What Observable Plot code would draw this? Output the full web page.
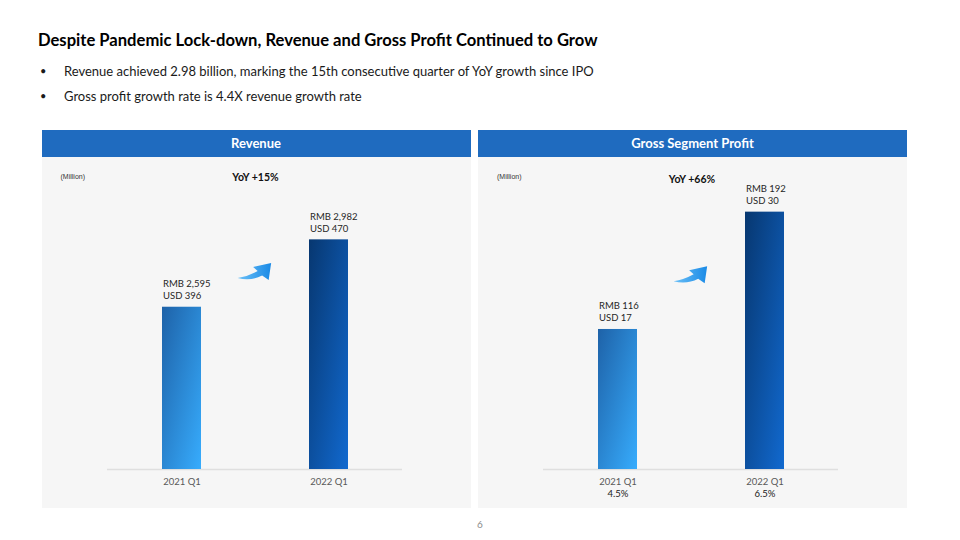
<!DOCTYPE html>
<html><head><meta charset="utf-8">
<script src="https://cdn.jsdelivr.net/npm/d3@7"></script>
<script src="https://cdn.jsdelivr.net/npm/@observablehq/plot@0.6"></script>
<style>
body{margin:0;width:960px;height:540px;position:relative;background:#fff;font-family:Lato,"Open Sans",sans-serif;overflow:hidden}
.abs{position:absolute}
#title{left:38px;top:29px;font-size:16.6px;font-weight:700;color:#000;white-space:nowrap;line-height:22px}
.bullet{left:38px;font-size:13px;color:#1a1a1a;white-space:nowrap;line-height:16px}
.bullet .dot{position:absolute;left:2px;font-size:11px}
.bullet .txt{position:absolute;left:26px}
.panel{top:129.5px;width:429px}
.hdr{height:27px;background:#1F6BBF;color:#fff;font-weight:700;font-size:13px;line-height:27px;text-align:center}
.body{position:relative;height:351px;background:#F6F6F6}
.unit{position:absolute;left:19px;top:15px;font-size:7px;font-family:"Liberation Sans",Arial,sans-serif;color:#333;line-height:10px}
.yoy{position:absolute;top:13px;font-size:10.5px;font-weight:700;color:#111;transform:translateX(-50%);white-space:nowrap;line-height:14px}
.body svg{position:absolute;left:0;top:0}
#page{left:0;width:960px;text-align:center;top:518px;font-size:10px;color:#8c8c8c}
</style></head>
<body>
<div id="title" class="abs"></div>
<div id="b1" class="abs bullet" style="top:63px"><span class="dot">•</span><span class="txt"></span></div>
<div id="b2" class="abs bullet" style="top:88px"><span class="dot">•</span><span class="txt"></span></div>
<div id="p0" class="abs panel" style="left:41.5px"><div class="hdr"></div><div class="body"><div class="unit"></div><div class="yoy"></div></div></div>
<div id="p1" class="abs panel" style="left:478px"><div class="hdr"></div><div class="body"><div class="unit"></div><div class="yoy"></div></div></div>
<div id="page" class="abs">6</div>
<script>
// ---- data ----
const titleText = "Despite Pandemic Lock-down, Revenue and Gross Profit Continued to Grow";
const bulletTexts = [
  "Revenue achieved 2.98 billion, marking the 15th consecutive quarter of YoY growth since IPO",
  "Gross profit growth rate is 4.4X revenue growth rate"
];
const categories = ["2021 Q1", "2022 Q1"];
const revenueRMB = [2595, 2982];
const revenueUSD = [396, 470];
const profitRMB = [116, 192];
const profitUSD = [17, 30];
const profitMargin = ["4.5%", "6.5%"];
const panelTitles = ["Revenue", "Gross Segment Profit"];
const yoyLabels = ["YoY +15%", "YoY +66%"];
const unitLabel = "(Million)";

// ---- text ----
document.getElementById("title").textContent = titleText;
document.querySelector("#b1 .txt").textContent = bulletTexts[0];
document.querySelector("#b2 .txt").textContent = bulletTexts[1];

const fmt = d3.format(",");
const NS = "http://www.w3.org/2000/svg";
function el(name, attrs) {
  const e = document.createElementNS(NS, name);
  for (const k in attrs) e.setAttribute(k, attrs[k]);
  return e;
}
function grad(id, c0, c1, x2, y2) {
  const g = el("linearGradient", {id, x1: 0, y1: 0, x2, y2});
  g.appendChild(el("stop", {offset: "0%", "stop-color": c0}));
  g.appendChild(el("stop", {offset: "100%", "stop-color": c1}));
  return g;
}

function swoosh(values, key) {
  return (index, scales) => {
    const x = scales.x, y = scales.y;
    const bw = x.bandwidth ? x.bandwidth() : 39;
    const xa = x(categories[0]) + bw / 2, xb = x(categories[1]) + bw / 2;
    const ya = y(values[0]), yb = y(values[1]);
    const t = 0.382;
    const tx = xa + t * (xb - xa), ty = ya + t * (yb - ya) - 3;
    const g = el("g", {});
    const defs = el("defs", {});
    defs.appendChild(grad(key + "bar0", "#1E62A8", "#37ACFD", 1, 1));
    defs.appendChild(grad(key + "bar1", "#073770", "#1169CF", 1, 1));
    defs.appendChild(grad(key + "arr", "#6BC0F7", "#1A8AE6", 1, 0));
    g.appendChild(defs);
    g.appendChild(el("path", {
      d: "M0,0 Q13,3.5 24.5,-2.5 L31,2 L33.5,-15 L15.5,-11 L20,-7 Q10,-1.5 0,0 Z",
      fill: `url(#${key}arr)`,
      transform: `translate(${tx},${ty})`
    }));
    return g;
  };
}

function makePanel(idx, rmb, usd, domain, extra) {
  const key = "p" + idx;
  const data = categories.map((c, i) => ({cat: c, rmb: rmb[i], usd: usd[i], pct: extra ? extra[i] : ""}));
  const panel = document.getElementById(key);
  panel.querySelector(".hdr").textContent = panelTitles[idx];
  panel.querySelector(".unit").textContent = unitLabel;
  const yoy = panel.querySelector(".yoy");
  yoy.textContent = yoyLabels[idx];
  const marks = [
    swoosh(rmb, key),
    Plot.ruleY([domain[0]], {stroke: "#DFDFDF", strokeWidth: 1.6}),
    Plot.barY(data.filter(d => d.cat === categories[0]), {x: "cat", y: "rmb", fill: `url(#${key}bar0)`}),
    Plot.barY(data.filter(d => d.cat === categories[1]), {x: "cat", y: "rmb", fill: `url(#${key}bar1)`}),
    Plot.text(data, {
      x: "cat", y: "rmb",
      text: d => `RMB ${fmt(d.rmb)}\nUSD ${fmt(d.usd)}`,
      textAnchor: "start", lineAnchor: "bottom", lineHeight: 1.3,
      dx: -19, dy: -8, fontSize: 9.5, fill: "#262626"
    })
  ];
  if (extra) {
    marks.push(Plot.text(data, {x: "cat", text: "pct", frameAnchor: "bottom", dy: 27, fontSize: 9.5, fill: "#1a1a1a"}));
  }
  const chart = Plot.plot({
    width: 429, height: 351,
    marginTop: 0, marginBottom: 39, marginLeft: 65, marginRight: 69,
    style: {background: "transparent", fontFamily: "Lato", fontSize: "9.5px", color: "#595959", overflow: "visible"},
    x: {domain: categories, paddingInner: 0.735, paddingOuter: 0.3675, tickSize: 0, tickPadding: 9, label: null},
    y: {domain, clamp: true, axis: null},
    marks
  });
  panel.querySelector(".body").appendChild(chart);
  yoy.style.left = "214px";
}

makePanel(0, revenueRMB, revenueUSD, [1663, 3455], null);
makePanel(1, profitRMB, profitUSD, [25.3, 227.4], profitMargin);
document.querySelector("#p1 .yoy").style.top = "15px";
</script>
</body></html>
